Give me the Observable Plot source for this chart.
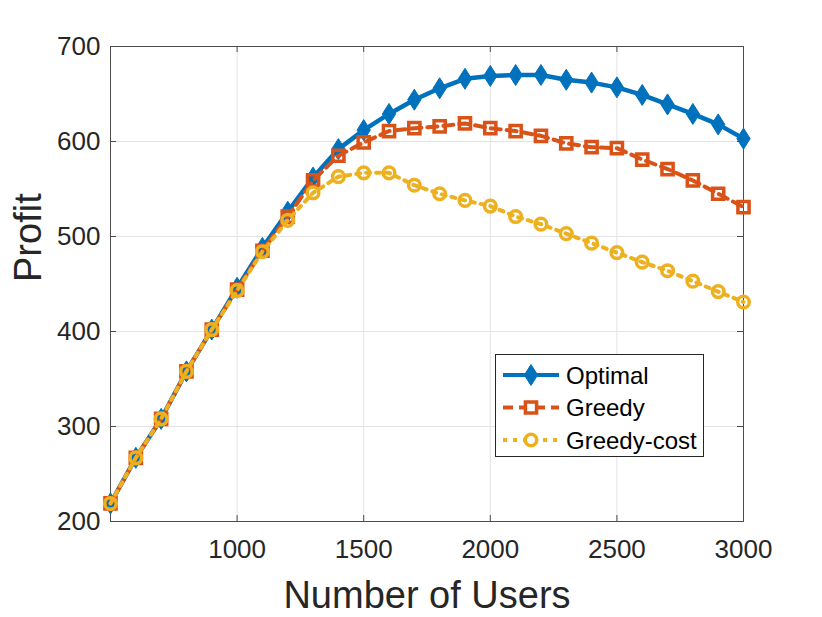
<!DOCTYPE html>
<html><head><meta charset="utf-8">
<script src="https://cdn.jsdelivr.net/npm/d3@7"></script>
<script src="https://cdn.jsdelivr.net/npm/@observablehq/plot@0.6"></script>
<style>
body{margin:0;background:#fff;}
#wrap{position:relative;width:822px;height:617px;font-family:"Liberation Sans",Arial,sans-serif;}
#legend{position:absolute;left:495px;top:354px;width:207px;height:101px;border:1px solid #262626;background:#fff;}
</style></head><body><div id="wrap"></div>
<script>
const users = [500,600,700,800,900,1000,1100,1200,1300,1400,1500,1600,1700,1800,1900,2000,2100,2200,2300,2400,2500,2600,2700,2800,2900,3000];
const optimal = [219,267,308,358,402,446,488,526,562,592,612,629,644,656,666,669,670,670,665,662,657,649,639,629,618,603];
const greedy = [219,267,308,358,402,444,485,521,559,585,599,611,614,616,619,614,611,606,598,594,593,581,571,559,545,531];
const greedyCost = [219,267,308,358,402,443,484,517,546,563,567,567,554,545,538,532,521,513,503,493,483,473,464,453,442,431];
const xTicks = [1000,1500,2000,2500,3000];
const yTicks = [200,300,400,500,600,700];
const seriesNames = ["Optimal","Greedy","Greedy-cost"];
const seriesColors = ["#0072BD","#D95319","#EDB120"];

const tallDiamond = {
  draw(context, size) {
    const s = Math.sqrt(size / Math.PI);
    const w = s * 0.95, h = s * 1.5;
    context.moveTo(0, -h); context.lineTo(w, 0); context.lineTo(0, h); context.lineTo(-w, 0); context.closePath();
  }
};

const rows = (vals, name) => users.map((u, i) => ({x: u, y: vals[i], s: name}));
const dOpt = rows(optimal, seriesNames[0]);
const dGr = rows(greedy, seriesNames[1]);
const dGc = rows(greedyCost, seriesNames[2]);

const W = 822, H = 617, mL = 110, mR = 79, mT = 46, mB = 96;
const pw = W - mL - mR, ph = H - mT - mB;
const axisColor = "#4d4d4d", textColor = "#262626", gridColor = "#e3e3e3";
const fmt = d3.format("d");

const chart = Plot.plot({
  width: W, height: H,
  marginLeft: mL, marginRight: mR, marginTop: mT, marginBottom: mB,
  style: {fontFamily: '"Liberation Sans", Arial, sans-serif', color: textColor, background: "#fff"},
  x: {domain: [500, 3000]},
  y: {domain: [200, 700]},
  marks: [
    Plot.gridX(xTicks.slice(0, -1), {stroke: gridColor, strokeOpacity: 1, strokeWidth: 1}),
    Plot.gridY(yTicks.slice(1, -1), {stroke: gridColor, strokeOpacity: 1, strokeWidth: 1}),
    Plot.frame({stroke: axisColor, strokeWidth: 1}),
    Plot.tickX(xTicks, {x: d => d, insetTop: ph - 6, stroke: axisColor}),
    Plot.tickX(xTicks, {x: d => d, insetBottom: ph - 6, stroke: axisColor}),
    Plot.tickY(yTicks, {y: d => d, insetRight: pw - 6, stroke: axisColor}),
    Plot.tickY(yTicks, {y: d => d, insetLeft: pw - 6, stroke: axisColor}),
    Plot.axisX(xTicks, {tickSize: 0, tickPadding: 18, fontSize: 26, label: null, fill: textColor, tickFormat: fmt}),
    Plot.axisY(yTicks, {tickSize: 0, tickPadding: 10, fontSize: 26, label: null, fill: textColor, tickFormat: fmt}),
    Plot.text(["Number of Users"], {frameAnchor: "bottom", dy: 86, fontSize: 38, fill: textColor}),
    Plot.text(["Profit"], {frameAnchor: "left", dx: -82, dy: -2, rotate: -90, fontSize: 38, fill: textColor}),
    Plot.line(dOpt, {x: "x", y: "y", stroke: seriesColors[0], strokeWidth: 4.5}),
    Plot.dot(dOpt, {x: "x", y: "y", symbol: tallDiamond, r: 7, fill: seriesColors[0], stroke: seriesColors[0], strokeWidth: 1}),
    Plot.line(dGr, {x: "x", y: "y", stroke: seriesColors[1], strokeWidth: 4, strokeDasharray: "10,6"}),
    Plot.dot(dGr, {x: "x", y: "y", symbol: "square", r: 6.3, fill: "none", stroke: seriesColors[1], strokeWidth: 3.5}),
    Plot.line(dGc, {x: "x", y: "y", stroke: seriesColors[2], strokeWidth: 4, strokeDasharray: "4,6"}),
    Plot.dot(dGc, {x: "x", y: "y", symbol: "circle", r: 5.8, fill: "none", stroke: seriesColors[2], strokeWidth: 3.5})
  ]
});
const wrap = document.getElementById("wrap");
wrap.appendChild(chart);

// Legend
const leg = document.createElement("div");
leg.id = "legend";
wrap.appendChild(leg);
const lsvg = d3.select(leg).append("svg").attr("width", 207).attr("height", 101);
const dashes = [null, "10,6", "4,6"];
const syms = [tallDiamond, d3.symbolSquare, d3.symbolCircle];
const symSize = [Math.PI * 49, Math.PI * 6.3 * 6.3, Math.PI * 5.8 * 5.8];
seriesNames.forEach((name, i) => {
  const cy = 20 + i * 32.5;
  const g = lsvg.append("g").attr("transform", `translate(0,${cy})`);
  g.append("line").attr("x1", 7).attr("x2", 63).attr("y1", 0).attr("y2", 0)
    .attr("stroke", seriesColors[i]).attr("stroke-width", 4)
    .attr("stroke-dasharray", dashes[i]);
  g.append("path").attr("transform", "translate(35,0)")
    .attr("d", d3.symbol(syms[i], symSize[i])())
    .attr("fill", i === 0 ? seriesColors[0] : "#fff")
    .attr("stroke", seriesColors[i]).attr("stroke-width", i === 0 ? 1 : 3.5);
  g.append("text").attr("x", 70).attr("y", 0).attr("dy", "0.36em")
    .attr("font-size", 24).attr("fill", "#000")
    .attr("font-family", '"Liberation Sans", Arial, sans-serif').text(name);
});
</script></body></html>
